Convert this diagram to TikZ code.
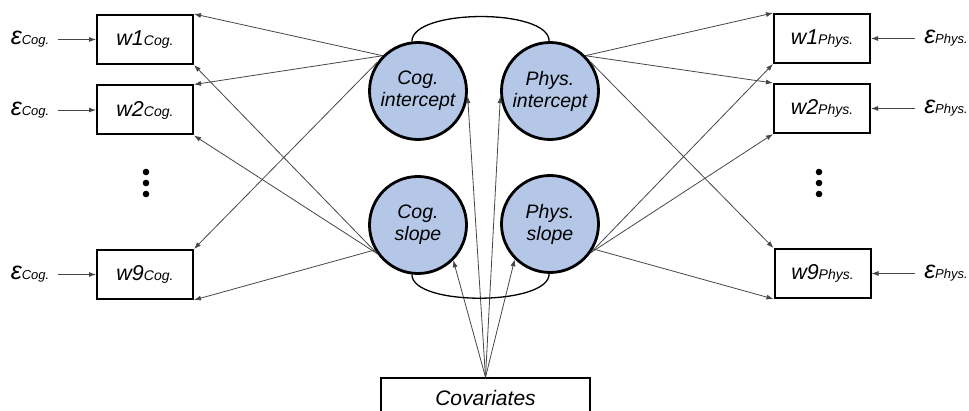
\documentclass[tikz,border=0pt]{standalone}
\usepackage{fontspec}
\setmainfont{Liberation Sans}
\usetikzlibrary{arrows.meta}
\definecolor{latfill}{RGB}{180,199,231}
\definecolor{linegray}{RGB}{70,70,70}
\begin{document}
\begin{tikzpicture}[x=1pt,y=-1pt,
  obs/.style={draw, line width=2pt, minimum width=96pt, minimum height=49pt, inner sep=0pt},
  lat/.style={circle, draw, line width=2.8pt, fill=latfill, minimum size=97pt, inner sep=0pt, align=center,
    font=\itshape\fontsize{19.5}{22}\selectfont},
  conn/.style={draw=linegray, line width=0.8pt, -{Latex[length=7pt,width=5pt]}},
  cov/.style={draw=black, line width=1.3pt},
  err/.style={inner sep=0pt},
  errarrow/.style={conn, shorten <=9pt}
]
\newcommand{\obstxt}[2]{{\itshape\fontsize{21.5}{21}\selectfont #1}{\itshape\fontsize{14}{14}\selectfont #2}}
\newcommand{\errtxt}[1]{{\itshape\fontsize{25}{22}\selectfont ε}{\itshape\fontsize{13}{12}\selectfont #1}}
\useasboundingbox (0,0) rectangle (969,411);
\clip (0,0) rectangle (969,411);

% observed boxes
\node[obs] (w1c) at (145,39.5) {\obstxt{w1}{Cog.}};
\node[obs] (w2c) at (145,110) {\obstxt{w2}{Cog.}};
\node[obs] (w9c) at (145,274.5) {\obstxt{w9}{Cog.}};
\node[obs] (w1p) at (822,38.5) {\obstxt{w1}{Phys.}};
\node[obs] (w2p) at (822,108.5) {\obstxt{w2}{Phys.}};
\node[obs] (w9p) at (822.5,273.5) {\obstxt{w9}{Phys.}};

% error terms
\node[err] (e1c) at (30,39.5) {\errtxt{Cog.}};
\node[err] (e2c) at (30,110) {\errtxt{Cog.}};
\node[err] (e9c) at (30,274.5) {\errtxt{Cog.}};
\node[err] (e1p) at (946,38.5) {\errtxt{Phys.}};
\node[err] (e2p) at (946,108.5) {\errtxt{Phys.}};
\node[err] (e9p) at (946,273.5) {\errtxt{Phys.}};

\draw[errarrow] (e1c.east) -- (w1c.west);
\draw[errarrow] (e2c.east) -- (w2c.west);
\draw[errarrow] (e9c.east) -- (w9c.west);
\draw[errarrow] (e1p.west) -- (w1p.east);
\draw[errarrow] (e2p.west) -- (w2p.east);
\draw[errarrow] (e9p.west) -- (w9p.east);

% dots
\foreach \yy in {172,183,194} {
  \fill (146,\yy) circle (3.3pt);
  \fill (819,\yy) circle (3.3pt);
}

% latent variables
\node[lat] (ci) at (418,91) {Cog.\\intercept};
\node[lat] (pi) at (550,91) {Phys.\\intercept};
\node[lat] (cs) at (418,225) {Cog.\\slope};
\node[lat] (ps) at (550,224) {Phys.\\slope};

% covariates
\node[draw, line width=1.5pt, minimum width=209pt, minimum height=40pt, inner sep=0pt,
  font=\itshape\fontsize{21}{21}\selectfont] (cv) at (485.5,398) {Covariates};

% loadings
\draw[conn] (ci.135) -- (w1c.north east);
\draw[conn] (ci.135) -- (w2c.north east);
\draw[conn] (ci.145) -- (w9c.north east);
\draw[conn] (cs.215) -- (w1c.south east);
\draw[conn] (cs.215) -- (w2c.south east);
\draw[conn] (cs.210) -- (w9c.south east);
\draw[conn] (pi.45) -- (w1p.north west);
\draw[conn] (pi.45) -- (w2p.north west);
\draw[conn] (pi.35) -- (w9p.north west);
\draw[conn] (ps.-35) -- (w1p.south west);
\draw[conn] (ps.-35) -- (w2p.south west);
\draw[conn] (ps.-30) -- (w9p.south west);

% covariate effects
\draw[conn] (cv.north) -- (ci.-6);
\draw[conn] (cv.north) -- (pi.186);
\draw[conn] (cv.north) -- (cs.-45);
\draw[conn] (cv.north) -- (ps.225);

% covariances
\draw[cov] (ci.97) .. controls +(0,-33) and +(0,-33) .. (pi.91);
\draw[cov] (cs.263) .. controls +(0,32) and +(0,32) .. (ps.269);
\end{tikzpicture}
\end{document}
